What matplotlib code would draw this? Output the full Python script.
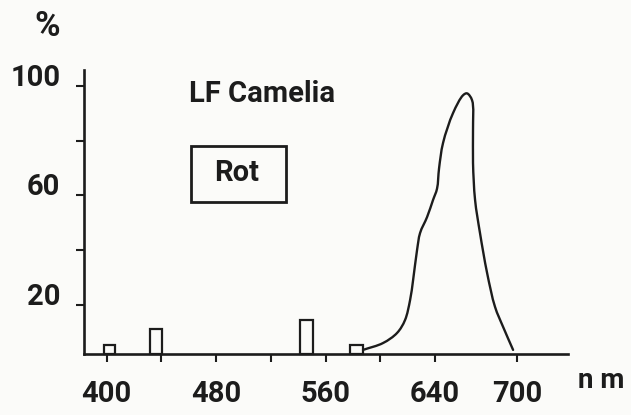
import matplotlib
matplotlib.use("Agg")
import matplotlib.pyplot as plt
import numpy as np
from matplotlib.patches import Rectangle, PathPatch
from matplotlib.path import Path

# emission spectrum "LF Camelia", red
wavelength = [587.4, 602.0, 612.3, 618.1, 621.8, 624.0, 626.9, 629.1, 634.2,
              638.6, 641.5, 643.0, 645.9, 653.2, 660.5, 663.4, 667.1, 667.8,
              667.8, 669.3, 672.9, 678.1, 683.9, 689.8, 697.1]
intensity = [3.6, 6.1, 9.8, 14.5, 21.8, 29.1, 40.1, 46.3, 52.1,
             58.4, 62.5, 70.0, 79.2, 90.1, 96.6, 97.3, 94.8, 83.9,
             71.9, 58.4, 46.3, 31.7, 19.3, 12.0, 3.6]

# mercury lines drawn as small bars
line_nm = [402, 436, 546, 582.5]
line_width = [8, 9, 9.8, 9.5]
line_top = [5.4, 11.2, 14.5, 5.4]

x_ticks = [400, 440, 480, 520, 560, 600, 640, 700]
x_labels = ['400', '', '480', '', '560', '', '640', '700']
y_ticks = [20, 40, 60, 80, 100]
y_labels = ['20', '', '60', '', '100']

baseline = 2.1
ink = '#1c1c1c'
paper = '#fbfbf9'

plt.rcParams['font.family'] = ['Roboto', 'DejaVu Sans']
plt.rcParams['font.weight'] = 'bold'


def smooth_path(ax, xs, ys, alpha=0.5):
    # centripetal Catmull-Rom through the read points (in pixel space),
    # drawn as cubic Bezier segments
    p = ax.transData.transform(np.column_stack([xs, ys]))
    p = np.vstack([2 * p[0] - p[1], p, 2 * p[-1] - p[-2]])
    verts = [p[1]]
    codes = [Path.MOVETO]
    for i in range(1, len(p) - 2):
        p0, p1, p2, p3 = p[i - 1], p[i], p[i + 1], p[i + 2]
        d1 = max(np.hypot(*(p1 - p0)), 1e-6) ** alpha
        d2 = max(np.hypot(*(p2 - p1)), 1e-6) ** alpha
        d3 = max(np.hypot(*(p3 - p2)), 1e-6) ** alpha
        c1 = (d1 ** 2 * p2 - d2 ** 2 * p0
              + (2 * d1 ** 2 + 3 * d1 * d2 + d2 ** 2) * p1) / (3 * d1 * (d1 + d2))
        c2 = (d3 ** 2 * p1 - d2 ** 2 * p3
              + (2 * d3 ** 2 + 3 * d3 * d2 + d2 ** 2) * p2) / (3 * d3 * (d3 + d2))
        verts += [c1, c2, p2]
        codes += [Path.CURVE4] * 3
    verts = ax.transData.inverted().transform(np.array(verts))
    return Path(verts, codes)


fig = plt.figure(figsize=(6.31, 4.15), dpi=100, facecolor=paper)
ax = fig.add_axes([0, 0, 1, 1], facecolor=paper)
ax.set_xlim(322.0, 783.3)
ax.set_ylim(-20.18, 131.4)

heights = [t - baseline for t in line_top]
ax.bar(line_nm, heights, width=line_width, bottom=baseline, fill=False,
       edgecolor=ink, linewidth=1.6)
ax.add_patch(PathPatch(smooth_path(ax, wavelength, intensity), fill=False,
                       edgecolor=ink, linewidth=1.7, joinstyle='round',
                       capstyle='round'))

for side in ['top', 'right']:
    ax.spines[side].set_visible(False)
ax.spines['left'].set_position(('data', 383.4))
ax.spines['left'].set_bounds(baseline, 105.8)
ax.spines['bottom'].set_position(('data', baseline))
ax.spines['bottom'].set_bounds(383.4, 737.3)
for side in ['left', 'bottom']:
    ax.spines[side].set_linewidth(1.9)
    ax.spines[side].set_color(ink)

ax.set_xticks(x_ticks)
ax.set_xticklabels(x_labels)
ax.set_yticks(y_ticks)
ax.set_yticklabels(y_labels)
ax.tick_params(axis='x', direction='out', length=6, width=1.5, color=ink,
               pad=13, labelsize=21, labelcolor=ink)
ax.tick_params(axis='y', direction='out', length=6, width=1.5, color=ink,
               pad=11, labelsize=21, labelcolor=ink)
for lab in ax.get_xticklabels() + ax.get_yticklabels():
    lab.set_fontweight('bold')
for lab in ax.get_yticklabels():
    lab.set_verticalalignment('baseline')

ax.text(0.0745, 0.937, '%', transform=ax.transAxes, ha='center',
        va='center', fontsize=25, fontweight='bold', color=ink)
ax.text(0.952, 0.084, 'n m', transform=ax.transAxes, ha='center',
        va='center', fontsize=20, fontweight='bold', color=ink)
ax.text(0.415, 0.7735, 'LF Camelia', transform=ax.transAxes, ha='center',
        va='center', fontsize=21, fontweight='bold', color=ink)
ax.text(0.3756, 0.583, 'Rot', transform=ax.transAxes, ha='center',
        va='center', fontsize=21, fontweight='bold', color=ink)
ax.add_patch(Rectangle((0.3027, 0.5133), 0.1506, 0.1349,
                       transform=ax.transAxes, fill=False,
                       edgecolor=ink, linewidth=2.0))

fig.savefig('out.png', dpi=100, facecolor=paper)
